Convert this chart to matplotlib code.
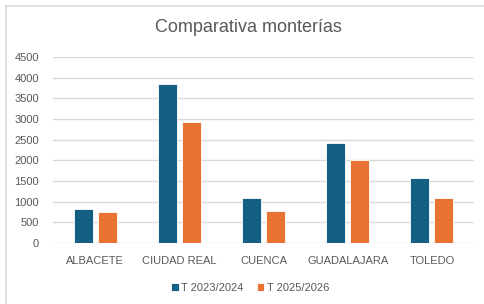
import numpy as np
import matplotlib.pyplot as plt
from matplotlib.lines import Line2D

# Datos
provincias = ['ALBACETE', 'CIUDAD REAL', 'CUENCA', 'GUADALAJARA', 'TOLEDO']
t_2023 = [830, 3850, 1100, 2410, 1570]
t_2025 = [750, 2930, 770, 2000, 1100]
series = ['T 2023/2024', 'T 2025/2026']


def main():
	plt.rcParams['font.family'] = ['Liberation Sans', 'DejaVu Sans']
	gris = '#595959'

	fig = plt.figure(figsize=(4.84, 3.04), dpi=100)
	ax = fig.add_axes([53 / 484, 1 - 243 / 304, 421 / 484, 186 / 304])

	x = np.arange(len(provincias))
	w = 0.226
	off = 0.143
	ax.bar(x - off, t_2023, w, color='#156082', edgecolor='white', linewidth=0.6,
		label=series[0], zorder=3)
	ax.bar(x + off, t_2025, w, color='#E97132', edgecolor='white', linewidth=0.6,
		label=series[1], zorder=3)

	ax.set_xlim(-0.5, len(provincias) - 0.5)
	ax.set_ylim(0, 4500)
	ax.set_yticks(np.arange(0, 4501, 500))
	ax.set_xticks(x)
	ax.set_xticklabels(provincias)
	ax.grid(axis='y', color='#D9D9D9', linewidth=1.0, zorder=0)
	for s in ax.spines.values():
		s.set_visible(False)
	ax.tick_params(length=0, colors=gris, labelsize=8)
	ax.tick_params(axis='y', pad=10)
	ax.tick_params(axis='x', pad=9)

	fig.text(248 / 484, 1 - 28 / 304, 'Comparativa monterías', ha='center', va='center',
		fontsize=13, color=gris)

	fig.legend(loc='center', bbox_to_anchor=(250 / 484, 1 - 288 / 304), ncol=2,
		frameon=False, fontsize=8, labelcolor=gris, handlelength=0.7,
		handleheight=0.7, handletextpad=0.2, columnspacing=1.2)

	# Marco del gráfico (solo se ve arriba y a la izquierda)
	fx = 5.5 / 484
	fy = 1 - 5.5 / 304
	fig.add_artist(Line2D([fx, 1], [fy, fy], color='#D9D9D9', lw=1.2))
	fig.add_artist(Line2D([fx, fx], [0, fy], color='#D9D9D9', lw=1.2))

	fig.savefig('out.png', dpi=100, facecolor='white')


if __name__ == '__main__':
	main()
